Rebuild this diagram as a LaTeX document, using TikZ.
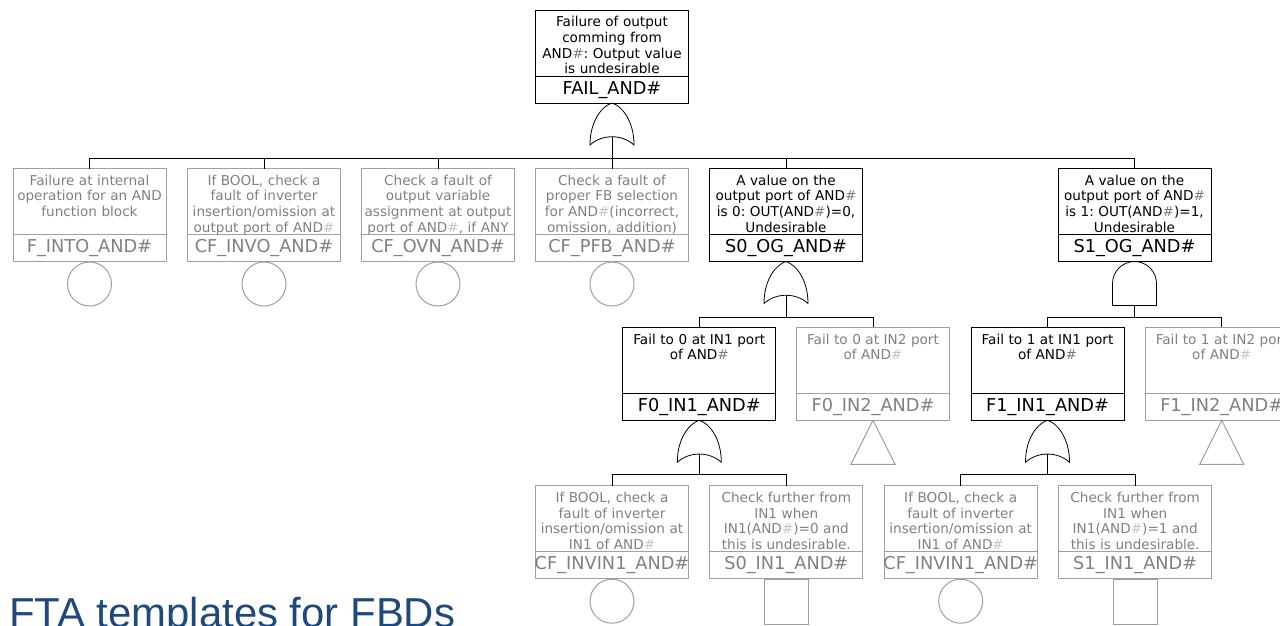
\documentclass[tikz,border=0pt]{standalone}
\usepackage{fontspec}
\usetikzlibrary{calc}
\newfontfamily\boxfont{DejaVu Sans}
\newfontfamily\titlefont{Liberation Sans}
\definecolor{gtext}{HTML}{808080}
\definecolor{gline}{HTML}{A0A0A0}
\definecolor{ghash}{HTML}{C4C4C4}
\definecolor{bhash}{HTML}{7A7A7A}
\definecolor{titleblue}{HTML}{1F497D}
\newcommand\hb{{\color{bhash}\#}}
\newcommand\hg{{\color{ghash}\#}}
\tikzset{
  ftabox/.style={rectangle, minimum width=114.75pt, minimum height=69.75pt, inner sep=0pt, outer sep=0pt, anchor=north},
  boxb/.style={draw=black, line width=0.75pt},
  boxg/.style={draw=gline, line width=0.75pt},
  txtb/.style={text=black},
  txtg/.style={text=gtext},
  desc/.style={anchor=north, inner sep=0pt, text width=116pt, align=center, font=\boxfont\frenchspacing\fontsize{10.2}{11.7}\selectfont},
  lab/.style={anchor=base, inner sep=0pt, font=\boxfont\fontsize{13.3}{15}\selectfont},
  gate/.style={draw=black, line width=0.6pt},
  conn/.style={draw=black, line width=0.75pt},
  evc/.style={circle, draw=gline, line width=0.75pt, minimum size=33pt, inner sep=0pt, anchor=north},
  evs/.style={rectangle, draw=gline, line width=0.75pt, minimum width=33pt, minimum height=33.75pt, inner sep=0pt, anchor=north},
  evt/.style={draw=gline, line width=0.75pt}
}
\newcommand\ftanode[6]{%
  \node[ftabox, box#2] (#1) at (#3,#4) {};
  \draw[box#2] ($(#1.north west)+(0,66)$) -- ($(#1.north east)+(0,66)$);
  \node[desc, txt#2] (#1-d) at (#1.north) {\rule{0pt}{12.4pt}#5};
  \node[lab, txt#2] (#1-l) at ($(#1.north)+(0,84)$) {#6};
}
\newcommand\orgate[2]{%
  \begin{scope}[shift={(#2.south)}]
    \draw[gate] (0,0) .. controls (-10,3) and (-22,18) .. (-22,42)
      .. controls (-10,31) and (10,31) .. (22,42)
      .. controls (22,18) and (10,3) .. (0,0) -- cycle;
    \coordinate (#1) at (0,33.75);
  \end{scope}}
\newcommand\andgate[2]{%
  \begin{scope}[shift={(#2.south)}]
    \draw[gate] (-22,44) -- (-22,22) .. controls (-22,9.85) and (-12.15,0) .. (0,0)
      .. controls (12.15,0) and (22,9.85) .. (22,22) -- (22,44) -- cycle;
    \coordinate (#1) at (0,44);
  \end{scope}}
\newcommand\triev[1]{\draw[evt] (#1.south) -- ++(-22,44) -- ++(44,0) -- cycle;}
\begin{document}
\begin{tikzpicture}[x=0.75pt, y=-0.75pt]
\useasboundingbox (0,0) rectangle (1280,625);
\clip (0,0) rectangle (1280,625);

% top event
\ftanode{top}{b}{612}{10}{Failure of output\\comming from\\AND\hb: Output value\\is undesirable}{FAIL\_AND\#}
\orgate{g0}{top}
\coordinate (bus0) at (612,158);
\draw[conn] (g0) -- (bus0);

% level 1
\ftanode{a1}{g}{89.5}{168.5}{Failure at internal\\operation for an AND\\function block}{F\_INTO\_AND\#}
\ftanode{a2}{g}{264}{168.5}{If BOOL, check a\\fault of inverter\\insertion/omission at\\output port of AND\hg}{CF\_INVO\_AND\#}
\ftanode{a3}{g}{438}{168.5}{Check a fault of\\output variable\\assignment at output\\port of AND\hg, if ANY}{CF\_OVN\_AND\#}
\ftanode{a4}{g}{612}{168.5}{Check a fault of\\proper FB selection\\for AND\hg(incorrect,\\omission, addition)}{CF\_PFB\_AND\#}
\ftanode{a5}{b}{786}{168.5}{A value on the\\output port of AND\hb\\is 0: OUT(AND\hb)=0,\\Undesirable}{S0\_OG\_AND\#}
\ftanode{a6}{b}{1134.5}{168.5}{A value on the\\output port of AND\hb\\is 1: OUT(AND\hb)=1,\\Undesirable}{S1\_OG\_AND\#}
\foreach \n in {a1,a2,a3,a4,a5,a6} {\draw[conn] (\n.north) |- (bus0);}
\node[evc] (a1-e) at (a1.south) {};
\node[evc] (a2-e) at (a2.south) {};
\node[evc] (a3-e) at (a3.south) {};
\node[evc] (a4-e) at (a4.south) {};

\orgate{g5}{a5}
\coordinate (bus5) at (786,317);
\draw[conn] (g5) -- (bus5);
\andgate{g6}{a6}
\coordinate (bus6) at (1134.5,317);
\draw[conn] (g6) -- (bus6);

% level 2
\ftanode{b1}{b}{699.3}{327.3}{Fail to 0 at IN1 port\\of AND\hb}{F0\_IN1\_AND\#}
\ftanode{b2}{g}{873}{327.3}{Fail to 0 at IN2 port\\of AND\hg}{F0\_IN2\_AND\#}
\ftanode{b3}{b}{1047.5}{327.3}{Fail to 1 at IN1 port\\of AND\hb}{F1\_IN1\_AND\#}
\ftanode{b4}{g}{1221.7}{327.3}{Fail to 1 at IN2 port\\of AND\hg}{F1\_IN2\_AND\#}
\draw[conn] (b1.north) |- (bus5);
\draw[conn] (b2.north) |- (bus5);
\draw[conn] (b3.north) |- (bus6);
\draw[conn] (b4.north) |- (bus6);
\triev{b2}
\triev{b4}

\orgate{g7}{b1}
\coordinate (bus7) at (699.3,474);
\draw[conn] (g7) -- (bus7);
\orgate{g8}{b3}
\coordinate (bus8) at (1047.5,474);
\draw[conn] (g8) -- (bus8);

% level 3
\ftanode{c1}{g}{612}{485.7}{If BOOL, check a\\fault of inverter\\insertion/omission at\\IN1 of AND\hg}{CF\_INVIN1\_AND\#}
\ftanode{c2}{g}{786.3}{485.7}{Check further from\\IN1 when\\IN1(AND\hg)=0 and\\this is undesirable.}{S0\_IN1\_AND\#}
\ftanode{c3}{g}{960.7}{485.7}{If BOOL, check a\\fault of inverter\\insertion/omission at\\IN1 of AND\hg}{CF\_INVIN1\_AND\#}
\ftanode{c4}{g}{1135.2}{485.7}{Check further from\\IN1 when\\IN1(AND\hg)=1 and\\this is undesirable.}{S1\_IN1\_AND\#}
\draw[conn] (c1.north) |- (bus7);
\draw[conn] (c2.north) |- (bus7);
\draw[conn] (c3.north) |- (bus8);
\draw[conn] (c4.north) |- (bus8);
\node[evc] (c1-e) at (c1.south) {};
\node[evs] (c2-e) at (c2.south) {};
\node[evc] (c3-e) at (c3.south) {};
\node[evs] (c4-e) at (c4.south) {};

% title
\node[anchor=base west, inner sep=0pt, text=titleblue, font=\titlefont\fontsize{31.4}{36}\selectfont] (title) at (9,627) {FTA templates for FBDs};
\end{tikzpicture}
\end{document}
